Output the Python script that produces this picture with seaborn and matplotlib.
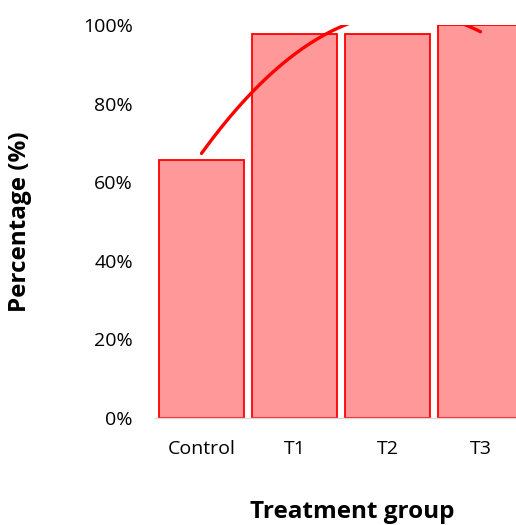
import matplotlib
matplotlib.use("Agg")
import matplotlib.pyplot as plt
import seaborn as sns
import numpy as np
import pandas as pd
from matplotlib.ticker import PercentFormatter

# -------------------------
# Data
# -------------------------
groups = ["Control", "T1", "T2", "T3"]
percentages = [65.6, 97.7, 97.7, 100.0]

df = pd.DataFrame({"group": groups, "pct": percentages})
df["pos"] = np.arange(len(groups))

sns.set_style("white")
plt.rcParams["font.family"] = ["Open Sans", "DejaVu Sans"]
plt.rcParams["text.color"] = "black"
plt.rcParams["xtick.color"] = "black"
plt.rcParams["ytick.color"] = "black"

fig = plt.figure(figsize=(5.16, 5.25), dpi=100)
# axes extends past the right edge, like the cropped original
ax = fig.add_axes([155 / 516, (525 - 418) / 525, 372 / 516, 393 / 525])

sns.barplot(data=df, x="group", y="pct", ax=ax, color="#FF9999",
            edgecolor="#FF0000", linewidth=1.3, width=0.92, saturation=1)

# polynomial (order 2) trendline
sns.regplot(data=df, x="pos", y="pct", order=2, ci=None, scatter=False,
            ax=ax, truncate=True,
            line_kws={"color": "#FF0000", "linewidth": 2.4,
                      "solid_capstyle": "round"})

ax.set_xlim(-0.5, 3.5)
ax.set_ylim(0, 100)
ax.set_yticks([0, 20, 40, 60, 80, 100])
ax.yaxis.set_major_formatter(PercentFormatter(decimals=0))
ax.tick_params(axis="y", length=0, pad=16, labelsize=14)
ax.tick_params(axis="x", length=0, pad=16, labelsize=14)
ax.set_xlabel("")
ax.set_ylabel("")

for side in ["top", "right", "left"]:
    ax.spines[side].set_visible(False)
ax.spines["bottom"].set_color("#D9D9D9")
ax.spines["bottom"].set_linewidth(1)

fig.text(20 / 516, 1 - 222 / 525, "Percentage (%)", rotation=90,
         ha="center", va="center", fontsize=17.5, fontweight="bold")
fig.text(352 / 516, 1 - 512 / 525, "Treatment group",
         ha="center", va="center", fontsize=17.5, fontweight="bold")

fig.savefig("out.png", dpi=100)
